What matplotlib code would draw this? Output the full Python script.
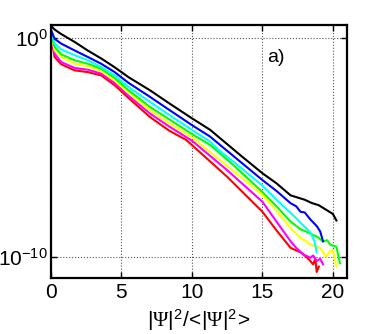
import numpy as np
import matplotlib
matplotlib.use('Agg')
import matplotlib.pyplot as plt

plt.rcParams['font.family'] = 'Liberation Sans'
plt.rcParams['mathtext.fontset'] = 'custom'
plt.rcParams['mathtext.rm'] = 'Liberation Serif'
plt.rcParams['mathtext.sf'] = 'Liberation Sans'

# log10 of the pdf
x_black = [0, 0.25, 0.7, 1.7, 2.6, 3.6, 4.5, 5.5, 7.0, 8.4, 10, 11.3, 12, 13.5, 15, 16, 17, 17.5, 18, 18.5, 19, 19.5, 20, 20.25]
y_black = [0.55, 0.38, 0.18, -0.2, -0.58, -0.96, -1.34, -1.8, -2.39, -3.0, -3.68, -4.21, -4.59, -5.4, -6.19, -6.65, -7.2, -7.3, -7.4, -7.55, -7.65, -7.85, -8.05, -8.35]

x_blue = [0, 0.07, 0.26, 0.73, 1.68, 2.62, 3.57, 4.52, 5.5, 7.0, 8.4, 10, 11.3, 12, 13.5, 15, 16, 17, 17.4, 17.7, 18, 18.4, 18.85, 19.1, 19.3]
y_blue = [0.35, 0.26, -0.05, -0.27, -0.58, -0.88, -1.19, -1.57, -2.06, -2.69, -3.3, -3.99, -4.52, -4.9, -5.7, -6.5, -7.0, -7.56, -7.7, -7.95, -7.98, -8.3, -8.6, -8.85, -9.3]

x_cyan = [0, 0.07, 0.26, 0.73, 1.68, 2.62, 3.57, 4.52, 5.5, 7.0, 8.4, 10, 11.3, 11.9, 13.5, 15, 16, 17, 17.4, 17.7, 18.1, 18.4, 18.7, 18.85]
y_cyan = [0.25, 0.14, -0.27, -0.53, -0.8, -1.03, -1.34, -1.72, -2.25, -2.92, -3.53, -4.21, -4.75, -5.13, -5.95, -6.76, -7.4, -8.0, -8.25, -8.45, -8.7, -8.9, -9.3, -9.8]

x_green = [0, 0.07, 0.26, 0.73, 1.68, 2.62, 3.57, 4.52, 5.5, 7.0, 8.4, 10, 11.3, 13, 15, 16, 17, 17.7, 18.1, 18.4, 18.9, 19.3, 19.6, 19.8, 20.25, 20.5]
y_green = [0.15, 0.03, -0.42, -0.76, -1.03, -1.19, -1.42, -1.84, -2.4, -3.15, -3.73, -4.4, -4.9, -5.85, -7.05, -7.7, -8.4, -8.75, -8.85, -8.95, -9.1, -9.3, -9.25, -9.45, -9.55, -10.3]

x_yellow = [0, 0.07, 0.26, 0.73, 1.68, 2.62, 3.57, 4.52, 5.5, 7.0, 8.4, 10, 12.5, 15, 16, 17, 17.7, 18.1, 18.4, 19.1, 19.5, 19.8, 20.0, 20.25]
y_yellow = [0.08, -0.05, -0.58, -0.88, -1.19, -1.31, -1.52, -1.95, -2.5, -3.3, -3.91, -4.55, -5.85, -7.18, -7.9, -8.7, -9.15, -9.3, -9.45, -9.6, -10.0, -9.75, -9.7, -10.45]

x_magenta = [0, 0.07, 0.26, 0.73, 1.68, 2.62, 3.57, 4.52, 5.5, 7.0, 8.4, 10, 12.5, 15, 16, 17, 17.4, 17.9, 18.4, 18.6, 18.85, 19.1, 19.3]
y_magenta = [0.0, -0.12, -0.73, -1.11, -1.38, -1.46, -1.64, -2.07, -2.65, -3.45, -4.06, -4.7, -6.05, -7.49, -8.4, -9.3, -9.6, -9.9, -10.05, -9.95, -10.2, -10.1, -10.35]

x_red = [0, 0.07, 0.26, 0.73, 1.68, 2.62, 3.57, 4.52, 5.5, 7.0, 8.4, 9.6, 12.5, 15, 16, 17, 17.7, 18.1, 18.4, 18.6, 18.75, 18.85, 19.0]
y_red = [-0.05, -0.16, -0.88, -1.21, -1.49, -1.57, -1.72, -2.17, -2.75, -3.61, -4.25, -4.67, -6.35, -7.95, -8.8, -9.6, -9.8, -10.0, -10.2, -10.35, -10.1, -10.7, -10.45]

curves = [
    (x_black, y_black, 'k'),
    (x_blue, y_blue, '#0000ff'),
    (x_cyan, y_cyan, '#00ffff'),
    (x_green, y_green, '#00ff00'),
    (x_yellow, y_yellow, '#ffff00'),
    (x_magenta, y_magenta, '#ff00ff'),
    (x_red, y_red, '#ff0000'),
]

fig = plt.figure(figsize=(3.83, 3.34), dpi=100)
ax = fig.add_axes([0.133, 0.168, 0.773, 0.757])

for xs, ys, c in curves[::-1]:
    ax.semilogy(xs, 10.0 ** np.array(ys), color=c, lw=1.5)

ax.set_xlim(0, 21)
ax.set_ylim(10 ** -10.97, 10 ** 0.58)
ax.set_xticks([0, 5, 10, 15, 20])
ax.set_yticks([1e-10, 1e0])
ax.minorticks_off()
ax.grid(True, ls=':', color='#555555', lw=0.8)
ax.tick_params(direction='in', top=True, right=True, labelsize=15, length=4, width=1, pad=2)
ax.tick_params(axis='x', pad=4)
for s in ax.spines.values():
    s.set_linewidth(1.6)

ax.set_xlabel(r'$\mathsf{|}\Psi\mathsf{|^2/}\!\mathsf{<}\!\mathsf{|}\Psi\mathsf{|^2}\!\mathsf{>}$',
              fontsize=15, labelpad=3)
ax.text(0.76, 0.87, 'a)', transform=ax.transAxes, fontsize=14, ha='center', va='center')

fig.savefig('out.png', dpi=100)
